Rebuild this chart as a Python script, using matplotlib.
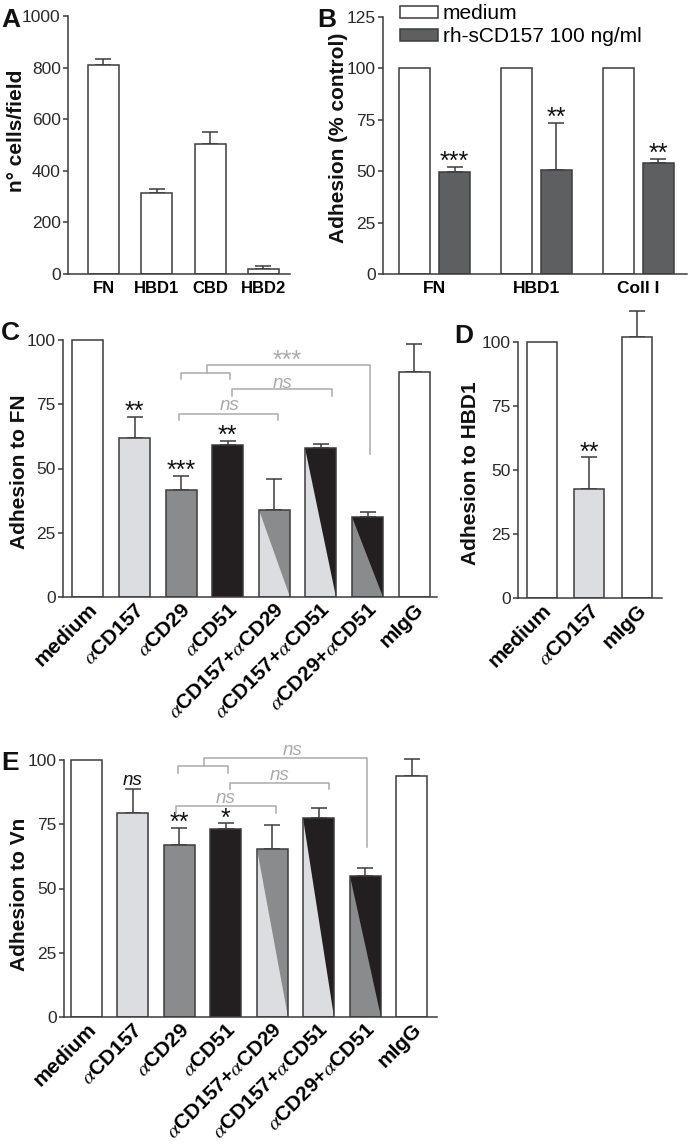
import numpy as np
import matplotlib
matplotlib.use('Agg')
import matplotlib.pyplot as plt
from matplotlib.patches import Polygon, Patch
from matplotlib.transforms import ScaledTranslation

plt.rcParams['font.family'] = ['Liberation Sans', 'DejaVu Sans']
plt.rcParams['mathtext.fontset'] = 'stix'

# ---------------- data ----------------
# panel A: cells per field
a_labels = ['FN', 'HBD1', 'CBD', 'HBD2']
a_vals = [812, 314, 504, 18]
a_err = [21, 15, 46, 12]

# panel B: adhesion (% control)
b_groups = ['FN', 'HBD1', 'Coll I']
b_medium = [100, 100, 100]
b_treated = [49.5, 50.4, 54.2]
b_err = [2.7, 23.0, 1.8]
b_stars = ['***', '**', '**']

# panels C and E share the same conditions
ce_labels = ['medium', r'$\alpha$CD157', r'$\alpha$CD29', r'$\alpha$CD51',
             r'$\alpha$CD157+$\alpha$CD29', r'$\alpha$CD157+$\alpha$CD51',
             r'$\alpha$CD29+$\alpha$CD51', 'mIgG']

c_vals = [100, 61.7, 41.6, 59.1, 33.8, 57.9, 31.3, 87.5]
c_err = [0, 8.4, 5.5, 1.7, 12.2, 1.6, 1.8, 10.9]
c_stars = ['', '**', '***', '**', '', '', '', '']

d_labels = ['medium', r'$\alpha$CD157', 'mIgG']
d_vals = [100, 42.5, 102.0]
d_err = [0, 12.4, 10.3]
d_stars = ['', '**', '']

e_vals = [100, 79.4, 67.0, 73.3, 65.4, 77.5, 54.7, 93.7]
e_err = [0, 9.2, 6.7, 2.1, 9.3, 3.7, 3.1, 6.7]
e_stars = ['', 'ns', '**', '*', '', '', '', '']

# ---------------- styles ----------------
W, H, DPI = 688, 1144, 100
EDGE = '#3c3c3c'
LIGHT = '#dcdde0'
MID = '#8a8b8d'
DARK = '#231f20'
BDARK = '#5e5f61'
GREY = '#ababab'
ce_fill = [('white',), (LIGHT,), (MID,), (DARK,), (LIGHT, MID), (LIGHT, DARK),
           (MID, DARK), ('white',)]
d_fill = [('white',), (LIGHT,), ('white',)]

fig = plt.figure(figsize=(W / DPI, H / DPI), dpi=DPI)


def px_axes(left, right, top, bottom):
    return fig.add_axes([left / W, 1 - bottom / H, (right - left) / W, (bottom - top) / H])


def style(ax, ytop, yticks):
    for s in ['top', 'right']:
        ax.spines[s].set_visible(False)
    for s in ['left', 'bottom']:
        ax.spines[s].set_color(EDGE)
        ax.spines[s].set_linewidth(1.1)
    ax.spines['left'].set_bounds(0, ytop)
    ax.set_yticks(yticks)
    ax.tick_params(axis='y', direction='out', length=3.8, width=1.1, color=EDGE,
                   labelsize=12.5, pad=1.5, labelcolor='#2a2a2a')
    ax.tick_params(axis='x', length=0, pad=5)


def bars(ax, x, vals, err, fills, width, stars=None, starfs=18):
    for xi, v, f in zip(x, vals, fills):
        ax.bar(xi, v, width, color=f[0], edgecolor='none', zorder=2)
        if len(f) > 1:
            tri = Polygon([(xi - width / 2, v), (xi + width / 2, v), (xi + width / 2, 0)],
                          closed=True, facecolor=f[1], edgecolor='none', zorder=2.5)
            ax.add_patch(tri)
        ax.bar(xi, v, width, fill=False, edgecolor=EDGE, linewidth=1.1, zorder=3)
    xe = [xi for xi, e in zip(x, err) if e > 0]
    ve = [v for v, e in zip(vals, err) if e > 0]
    ee = [e for e in err if e > 0]
    ax.errorbar(xe, ve, yerr=[np.zeros(len(ee)), ee], fmt='none', ecolor=EDGE,
                elinewidth=1.1, capsize=5.8, capthick=1.1, zorder=1)
    if stars:
        for xi, v, e, s in zip(x, vals, err, stars):
            if not s:
                continue
            if s == 'ns':
                ax.annotate(s, (xi, v + e), xytext=(0, 3.0), textcoords='offset points',
                            ha='center', va='baseline', fontsize=13.5, style='italic',
                            color='#111111')
            else:
                ax.annotate(s, (xi, v + e), xytext=(0, -1.6), textcoords='offset points',
                            ha='center', va='baseline', fontsize=starfs, color='#111111')


def rotate_labels(ax, labels, dx_px=0):
    ax.tick_params(axis='x', pad=2)
    ax.set_xticklabels(labels, rotation=45, ha='right', va='top', rotation_mode='anchor',
                       fontsize=15, fontweight='bold')
    off = ScaledTranslation(dx_px / DPI, 0, fig.dpi_scale_trans)
    for lab in ax.get_xticklabels():
        lab.set_transform(lab.get_transform() + off)


def bracket(ax, x1, x2, y, drop, xm=None, top=None, xr=None, ybot=None):
    ax.plot([x1, x1, x2, x2], [y - drop, y, y, y - drop], color=GREY, lw=1.1, zorder=4,
            clip_on=False)
    if xm is not None:
        ax.plot([xm, xm, xr, xr], [y, top, top, ybot], color=GREY, lw=1.1, zorder=4,
                clip_on=False)


# ---------------- panel A ----------------
axA = px_axes(68, 290, 16, 274)
xa = np.arange(len(a_labels))
bars(axA, xa, a_vals, a_err, [('white',)] * 4, 0.58)
axA.set_xlim(-0.666, 3.5)
axA.set_ylim(0, 1000)
style(axA, 1000, [0, 200, 400, 600, 800, 1000])
axA.set_xticks(xa)
axA.set_xticklabels(a_labels, fontsize=12, fontweight='bold')

# ---------------- panel B ----------------
axB = px_axes(383, 687, 17, 274)
xb = np.arange(len(b_groups))
off = 0.197
wb = 0.305
bars(axB, xb - off, b_medium, [0, 0, 0], [('white',)] * 3, wb)
bars(axB, xb + off, b_treated, b_err, [(BDARK,)] * 3, wb, stars=b_stars)
axB.set_xlim(-0.506, 2.48)
axB.set_ylim(0, 125)
style(axB, 125, [0, 25, 50, 75, 100, 125])
axB.set_xticks(xb)
axB.set_xticklabels(b_groups, fontsize=12.5, fontweight='bold')
handles = [Patch(facecolor='white', edgecolor=EDGE, linewidth=1.1),
           Patch(facecolor=BDARK, edgecolor=EDGE, linewidth=1.1)]
axB.legend(handles, ['medium', 'rh-sCD157 100 ng/ml'], loc='upper left',
           bbox_to_anchor=((400 - 383) / 304, (274 - 4) / 257), frameon=False,
           fontsize=15, handlelength=1.8, handleheight=0.5, handletextpad=0.25,
           labelspacing=0.2, borderpad=0, borderaxespad=0)

# ---------------- panel C ----------------
axC = px_axes(63, 437, 597 - 115 * 2.57, 597)
xc = np.arange(len(ce_labels))
bars(axC, xc, c_vals, c_err, ce_fill, 0.665, stars=c_stars)
axC.set_xlim(-0.536, 7.49)
axC.set_ylim(0, 115)
style(axC, 100, [0, 25, 50, 75, 100])
axC.set_xticks(xc)
rotate_labels(axC, ce_labels)
bracket(axC, 1.95, 4.08, 71.4, 2.4)
bracket(axC, 3.09, 5.24, 80.8, 2.4)
bracket(axC, 2.0, 3.05, 87.3, 2.6, xm=2.55, top=90.1, xr=6.05, ybot=55.5)
axC.text(3.03, 72.8, 'ns', ha='center', va='baseline', fontsize=13.5, style='italic', color=GREY)
axC.text(4.18, 81.5, 'ns', ha='center', va='baseline', fontsize=13.5, style='italic', color=GREY)
axC.text(4.27, 89.0, '***', ha='center', va='baseline', fontsize=18, color=GREY)

# ---------------- panel D ----------------
axD = px_axes(518, 662, 598 - 115 * 2.56, 598)
xd = np.arange(len(d_labels))
bars(axD, xd, d_vals, d_err, d_fill, 0.63, stars=d_stars)
axD.set_xlim(-0.505, 2.53)
axD.set_ylim(0, 115)
style(axD, 100, [0, 25, 50, 75, 100])
axD.set_xticks(xd)
rotate_labels(axD, d_labels)

# ---------------- panel E ----------------
axE = px_axes(64, 437, 1017 - 110 * 2.57, 1017)
bars(axE, xc, e_vals, e_err, ce_fill, 0.667, stars=e_stars)
axE.set_xlim(-0.484, 7.54)
axE.set_ylim(0, 110)
style(axE, 100, [0, 25, 50, 75, 100])
axE.set_xticks(xc)
rotate_labels(axE, ce_labels)
bracket(axE, 1.92, 4.07, 82.1, 2.6)
bracket(axE, 3.09, 5.22, 91.2, 2.6)
bracket(axE, 1.97, 3.04, 97.7, 2.6, xm=2.53, top=100.6, xr=6.03, ybot=66.3)
axE.text(2.99, 83.3, 'ns', ha='center', va='baseline', fontsize=13.5, style='italic', color=GREY)
axE.text(4.16, 92.3, 'ns', ha='center', va='baseline', fontsize=13.5, style='italic', color=GREY)
axE.text(4.44, 102.0, 'ns', ha='center', va='baseline', fontsize=13.5, style='italic', color=GREY)

# ---------------- y labels and panel letters ----------------
ylabels = [('n° cells/field', 17, 131), ('Adhesion (% control)', 338, 138),
           ('Adhesion to FN', 19.5, 472), ('Adhesion to HBD1', 470, 473),
           ('Adhesion to Vn', 19.5, 894)]
for txt, px, py in ylabels:
    fig.text(px / W, 1 - py / H, txt, rotation=90, ha='center', va='center',
             fontsize=15, fontweight='bold', color='#111111')

letters = [('A', 1, 27), ('B', 317, 27), ('C', 1, 340), ('D', 454, 343), ('E', 1, 770)]
for txt, px, py in letters:
    fig.text(px / W, 1 - py / H, txt, ha='left', va='baseline', fontsize=19,
             fontweight='bold', color='#111111')

fig.savefig('out.png', dpi=DPI)
